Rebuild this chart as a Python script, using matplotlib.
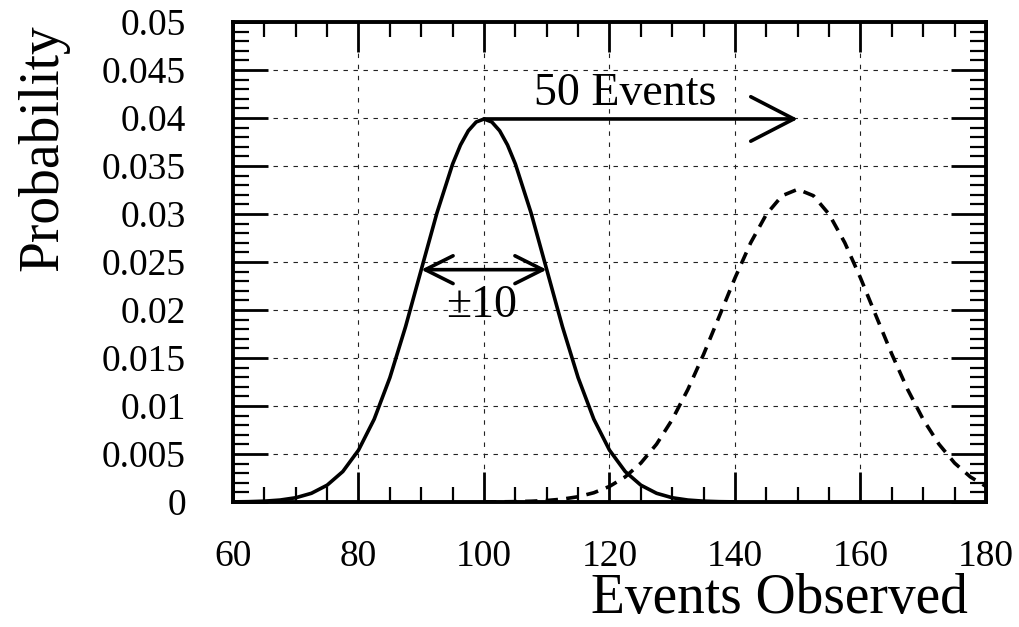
import matplotlib
matplotlib.use("Agg")
import matplotlib.pyplot as plt
from matplotlib.ticker import MultipleLocator, FuncFormatter

# values
# solid curve: expected 100 events, spread of 10
events_expected = [60, 62.5, 65, 67.5, 70, 72.5, 75, 77.5, 80, 82.5, 85, 87.5, 90, 92.5, 95, 96.25,
                   97.5, 98.75, 100, 101.25, 102.5, 103.75, 105, 107.5, 110, 112.5, 115, 117.5, 120,
                   122.5, 125, 127.5, 130, 132.5, 135, 137.5, 140]
prob_expected = [0.0000134, 0.0000353, 0.0000873, 0.000203, 0.000443, 0.000909, 0.001753, 0.003174,
                 0.005399, 0.008628, 0.012952, 0.018265, 0.024197, 0.030114, 0.035207, 0.037185,
                 0.038667, 0.039584, 0.039894, 0.039584, 0.038667, 0.037185, 0.035207, 0.030114,
                 0.024197, 0.018265, 0.012952, 0.008628, 0.005399, 0.003174, 0.001753, 0.000909,
                 0.000443, 0.000203, 0.0000873, 0.0000353, 0.0000134]

# dashed curve: shifted by 50 events
events_shifted = [100, 102.5, 105, 107.5, 110, 112.5, 115, 117.5, 120, 122.5, 125, 127.5, 130, 132.5,
                  135, 137.5, 140, 142.5, 145, 147.5, 150, 152.5, 155, 157.5, 160, 162.5, 165, 167.5,
                  170, 172.5, 175, 177.5, 180]
prob_shifted = [0.0000078, 0.0000177, 0.0000381, 0.0000791, 0.000157, 0.000300, 0.000549, 0.000964,
                0.001622, 0.002618, 0.004056, 0.006025, 0.008587, 0.011737, 0.015387, 0.019350,
                0.023340, 0.027005, 0.029969, 0.031902, 0.032574, 0.031902, 0.029969, 0.027005,
                0.023340, 0.019350, 0.015387, 0.011737, 0.008587, 0.006025, 0.004056, 0.002618,
                0.001622]

peak_x = 100
peak_y = 0.0399
shift_to = 150
width_left = 90
width_right = 110
width_y = 0.0242

plt.rcParams['font.family'] = ['Liberation Serif', 'DejaVu Serif']

fig = plt.figure(figsize=(10.2, 6.27), dpi=100)
ax = fig.add_axes([233 / 1020, 1 - 502 / 627, (986 - 233) / 1020, (502 - 22) / 627])

ax.plot(events_expected, prob_expected, color="black", lw=2.6, zorder=3)
ax.plot(events_shifted, prob_shifted, color="black", lw=2.6, linestyle=(0, (3.4, 2.3)), zorder=3)

# arrows
ax.annotate("", xy=(shift_to, peak_y), xytext=(peak_x, peak_y),
            arrowprops=dict(arrowstyle="->,head_length=31,head_width=16", lw=2.6,
                            mutation_scale=1, shrinkA=0, shrinkB=0, color="black"), zorder=4)
ax.annotate("", xy=(width_right, width_y), xytext=(width_left, width_y),
            arrowprops=dict(arrowstyle="<->,head_length=20,head_width=10", lw=2.6,
                            mutation_scale=1, shrinkA=0, shrinkB=0, color="black"), zorder=4)
ax.text(122.5, 0.04135, "50 Events", fontsize=33, ha="center", va="baseline")
ax.text(99.7, 0.01927, "\u00b110", fontsize=33, ha="center", va="baseline")

ax.set_xlim(60, 180)
ax.set_ylim(0, 0.05)
ax.xaxis.set_major_locator(MultipleLocator(20))
ax.xaxis.set_minor_locator(MultipleLocator(5))
ax.yaxis.set_major_locator(MultipleLocator(0.005))
ax.yaxis.set_minor_locator(MultipleLocator(0.001))
ax.yaxis.set_major_formatter(FuncFormatter(lambda v, p: "%g" % round(v, 4)))

ax.tick_params(axis="both", which="both", direction="in", top=True, right=True, labelsize=27)
ax.tick_params(axis="x", which="major", length=21.5, width=2, pad=27)
ax.tick_params(axis="x", which="minor", length=10.8, width=1.6)
ax.tick_params(axis="y", which="major", length=25, width=2, pad=34)
ax.tick_params(axis="y", which="minor", length=11.5, width=1.6)

for sp in ax.spines.values():
    sp.set_linewidth(2.8)

ax.xaxis.grid(True, color="#222222", lw=0.8, linestyle=(0, (4, 6)))
ax.yaxis.grid(True, color="#222222", lw=0.8, linestyle=(0, (4, 5)))

fig.text(968 / 1020, 2 / 627, "Events Observed", fontsize=40, ha="right", va="bottom")
fig.text(43 / 1020, 1 - 24 / 627, "Probability", fontsize=40, rotation=90, ha="center", va="top")

plt.savefig("out.png", dpi=100)
